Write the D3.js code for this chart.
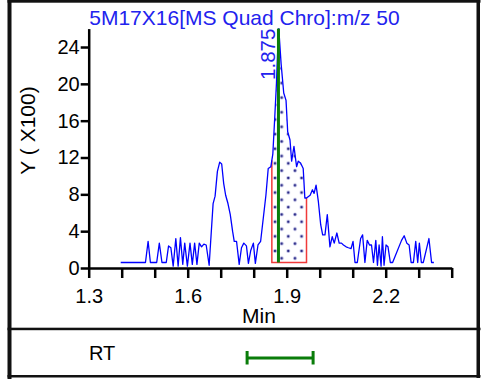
<!DOCTYPE html>
<html>
<head>
<meta charset="utf-8">
<script src="https://cdn.jsdelivr.net/npm/d3@7"></script>
<style>
  html, body { margin: 0; padding: 0; background: #fff; }
  svg { display: block; }
  text { font-family: "Liberation Sans", Arial, sans-serif; }
</style>
</head>
<body>
<svg id="chart" width="485" height="379"></svg>
<script>
// Chromatogram: MS Quad Chro, m/z 50 (time in min, intensity in units of 100)
const titleText = "5M17X16[MS Quad Chro]:m/z 50";
const times = [1.397,1.472,1.480,1.487,1.506,1.514,1.522,1.535,1.542,1.549,1.556,1.564,1.571,1.578,1.585,1.591,1.599,1.607,1.614,1.621,1.628,1.635,1.642,1.649,1.656,1.665,1.677,1.683,1.690,1.697,1.703,1.709,1.715,1.722,1.729,1.736,1.741,1.748,1.756,1.763,1.770,1.778,1.784,1.791,1.799,1.805,1.813,1.821,1.829,1.837,1.844,1.852,1.858,1.864,1.869,1.872,1.876,1.883,1.891,1.898,1.903,1.910,1.915,1.922,1.930,1.935,1.942,1.950,1.955,1.960,1.971,1.978,1.983,1.989,1.996,2.003,2.009,2.016,2.023,2.031,2.038,2.044,2.052,2.059,2.066,2.072,2.080,2.087,2.095,2.101,2.107,2.114,2.124,2.130,2.137,2.144,2.151,2.157,2.163,2.170,2.175,2.180,2.186,2.190,2.195,2.201,2.207,2.214,2.221,2.248,2.256,2.264,2.271,2.277,2.284,2.291,2.297,2.302,2.308,2.314,2.331,2.339,2.346,2.370];
const intensities = [0.6,0.6,2.9,0.6,0.6,2.7,0.6,0.6,2.4,2.2,0.2,3.2,0.2,3.3,0.4,2.7,0.2,2.7,0.4,2.7,0.4,2.7,2.3,2.6,2.5,0.3,7.0,7.8,10.5,11.5,11.3,9.2,7.9,7.0,5.8,4.0,2.9,2.9,0.4,2.2,2.7,2.4,0.5,1.9,2.7,0.5,2.5,2.9,5.4,7.9,10.8,11.0,12.4,16.5,20.1,23.0,26.0,22.2,19.0,18.2,14.8,13.9,11.6,13.2,11.0,11.6,11.4,10.8,7.6,7.6,7.9,8.5,8.1,9.0,7.2,4.7,3.6,3.6,5.8,2.3,3.4,2.7,3.8,2.7,2.7,2.5,2.3,2.2,2.1,2.9,0.6,0.6,3.2,3.6,0.6,3.0,2.5,2.5,0.6,3.0,0.3,2.5,0.2,3.4,0.3,2.5,2.3,0.6,0.6,3.0,3.5,2.7,2.5,0.6,0.6,2.9,0.6,2.7,0.6,0.6,3.2,0.6,0.6];

// Axis ticks
const xTickValues = [1.3,1.4,1.5,1.6,1.7,1.8,1.9,2.0,2.1,2.2,2.3,2.4];
const xTickLabels = [1.3,1.6,1.9,2.2];
const yTickValues = [0,4,8,12,16,20,24];

// Integrated peak and retention window
const peakRT = 1.875;
const integStart = 1.855;
const integEnd = 1.960;
const integBase = 0.6;
const rtWindow = [1.78, 1.98];

const svg = d3.select("#chart");
const x = d3.scaleLinear().domain([1.3, 2.4]).range([88.7, 451.7]);
const y = d3.scaleLinear().domain([0, 26]).range([268, 28.6]);

const data = times.map((t, i) => ({ t, v: intensities[i] }));
const valueAt = t => {
  const i = d3.bisector(d => d.t).right(data, t);
  const a = data[i - 1], b = data[i];
  if (!b) return a.v;
  const f = (t - a.t) / (b.t - a.t);
  return a.v + f * (b.v - a.v);
};

// Frame
const frame = svg.append("g").attr("fill", "#111");
frame.append("rect").attr("x", 7.5).attr("y", 0).attr("width", 4).attr("height", 379);
frame.append("rect").attr("x", 7.5).attr("y", 0).attr("width", 473).attr("height", 2.7);
frame.append("rect").attr("x", 476.5).attr("y", 0).attr("width", 3.5).attr("height", 378);
frame.append("rect").attr("x", 7.5).attr("y", 375).attr("width", 473).attr("height", 2.5);
frame.append("rect").attr("x", 7.5).attr("y", 327.7).attr("width", 473).attr("height", 2.5);

// Dot pattern for integrated area
const defs = svg.append("defs");
const pat = defs.append("pattern").attr("id", "dots")
  .attr("patternUnits", "userSpaceOnUse")
  .attr("width", 13.3).attr("height", 14.6)
  .attr("x", 273).attr("y", 30);
pat.append("rect").attr("width", 13.3).attr("height", 14.6).attr("fill", "#fff");
[[2, 2], [8.65, 9.3]].forEach(([cx, cy]) => {
  pat.append("circle").attr("cx", cx).attr("cy", cy).attr("r", 2).attr("fill", "#c4c4ea");
  pat.append("circle").attr("cx", cx).attr("cy", cy).attr("r", 1.2).attr("fill", "#2a2a85");
});

const areaPts = [{ t: integStart, v: valueAt(integStart) }]
  .concat(data.filter(d => d.t > integStart && d.t < integEnd))
  .concat([{ t: integEnd, v: valueAt(integEnd) }]);

const area = d3.area().x(d => x(d.t)).y0(y(integBase)).y1(d => y(d.v));
svg.append("path").datum(areaPts).attr("d", area).attr("fill", "url(#dots)");

// Integration boundary (left, bottom, right)
svg.append("path")
  .attr("d", d3.line()([
    [x(integStart), y(valueAt(integStart))],
    [x(integStart), y(integBase)],
    [x(integEnd), y(integBase)],
    [x(integEnd), y(valueAt(integEnd))]
  ]))
  .attr("fill", "none").attr("stroke", "#f03a3a").attr("stroke-width", 1.5);

// Trace
svg.append("path").datum(data)
  .attr("d", d3.line().x(d => x(d.t)).y(d => y(d.v)))
  .attr("fill", "none").attr("stroke", "#0000ff").attr("stroke-width", 1.3)
  .attr("stroke-linejoin", "round");

// Retention time marker
svg.append("line")
  .attr("x1", x(peakRT)).attr("x2", x(peakRT))
  .attr("y1", y(26)).attr("y2", y(integBase))
  .attr("stroke", "#0a7d0a").attr("stroke-width", 3);
svg.append("text")
  .attr("transform", `translate(${x(peakRT) - 3},${y(26)}) rotate(-90)`)
  .attr("text-anchor", "end")
  .attr("fill", "#2222ee").attr("font-size", 20.5)
  .text(d3.format(".3f")(peakRT));

// Axes
const xAxis = d3.axisBottom(x).tickValues(xTickValues).tickSize(10).tickSizeOuter(0)
  .tickPadding(11)
  .tickFormat(d => xTickLabels.some(v => Math.abs(v - d) < 1e-9) ? d3.format(".1f")(d) : "");
const gx = svg.append("g").attr("transform", `translate(0,${y(0)})`).call(xAxis);

const yAxis = d3.axisLeft(y).tickValues(yTickValues).tickSize(8).tickSizeOuter(0).tickPadding(1);
const gy = svg.append("g").attr("transform", `translate(${x(1.3)},0)`).call(yAxis);

[gx, gy].forEach(g => {
  g.selectAll("path, line").attr("stroke", "#000").attr("stroke-width", 2.5);
  g.selectAll("text").attr("font-size", 20).attr("fill", "#000")
    .attr("font-family", "'Liberation Sans', Arial, sans-serif");
});

// Axis titles
svg.append("text").attr("x", 259).attr("y", 323).attr("text-anchor", "middle")
  .attr("font-size", 21).text("Min");
svg.append("text")
  .attr("transform", "translate(35,130.5) rotate(-90)")
  .attr("text-anchor", "middle").attr("font-size", 21).text("Y ( X100)");

// Title
svg.append("text").attr("x", 244.5).attr("y", 24.5).attr("text-anchor", "middle")
  .attr("fill", "#2222ee").attr("font-size", 21).text(titleText);

// RT window row
svg.append("text").attr("x", 89).attr("y", 360).attr("font-size", 20).text("RT");
const rt = svg.append("g").attr("stroke", "#0a7d0a").attr("stroke-width", 3);
rt.append("line").attr("x1", x(rtWindow[0])).attr("x2", x(rtWindow[1])).attr("y1", 358).attr("y2", 358);
rtWindow.forEach(t => rt.append("line").attr("x1", x(t)).attr("x2", x(t)).attr("y1", 351).attr("y2", 364.5));
</script>
</body>
</html>
